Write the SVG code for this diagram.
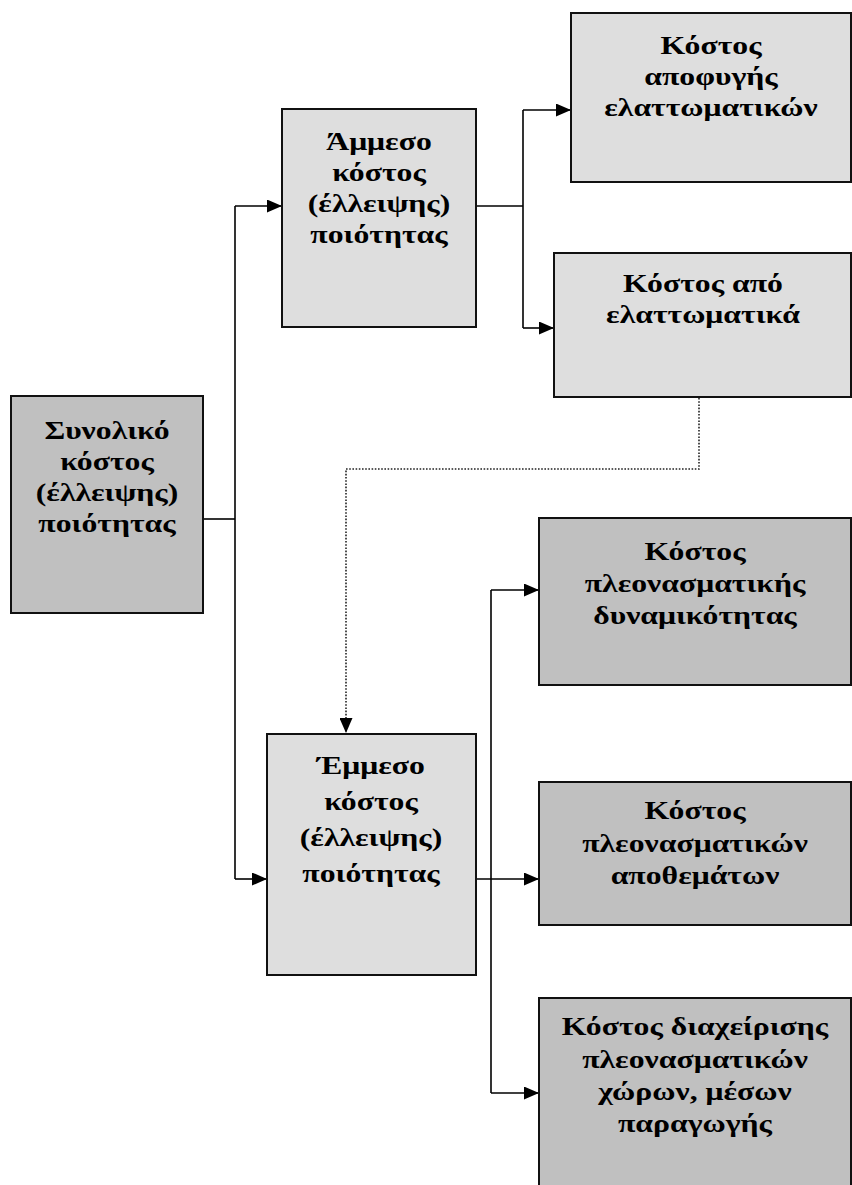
<svg xmlns="http://www.w3.org/2000/svg" width="852" height="1185" viewBox="0 0 852 1185">
  <style>
    .box { stroke: #111; stroke-width: 2; }
    .light { fill: #dedede; }
    .dark { fill: #c0c0c0; }
    .label { font-family: 'Liberation Serif', serif; font-weight: bold; font-size: 26px; fill: #000; text-anchor: middle; }
    .wire { fill: none; stroke: #000; stroke-width: 1.6; }
    .dotted { fill: none; stroke: #222; stroke-width: 1.6; stroke-dasharray: 1.6 1.6; }
    .faint { fill: none; stroke: #888; stroke-width: 1.6; }
  </style>
  <defs>
    <marker id="arrow" viewBox="0 0 15 13" refX="15" refY="6.5" markerWidth="15" markerHeight="13" markerUnits="userSpaceOnUse" orient="auto">
      <path d="M0,0 L15,6.5 L0,13 z" fill="#000"/>
    </marker>
  </defs>
  <rect width="852" height="1185" fill="#fff"/>

  <!-- connectors -->
  <g id="connectors">
    <path class="wire" d="M203,519 H235"/>
    <path class="wire" d="M235,206 V879"/>
    <path class="wire" d="M235,206 H282" marker-end="url(#arrow)"/>
    <path class="wire" d="M235,879 H267" marker-end="url(#arrow)"/>
    <path class="wire" d="M476,206 H523"/>
    <path class="wire" d="M523,110 V328"/>
    <path class="wire" d="M523,110 H571" marker-end="url(#arrow)"/>
    <path class="wire" d="M523,328 H554" marker-end="url(#arrow)"/>
    <path class="dotted" d="M699,398 V469 H346 V733" marker-end="url(#arrow)"/>
    <path class="faint" d="M458,879 H476"/>
    <path class="wire" d="M476,879 H539" marker-end="url(#arrow)"/>
    <path class="wire" d="M491,590 V1093"/>
    <path class="wire" d="M491,590 H539" marker-end="url(#arrow)"/>
    <path class="wire" d="M491,1093 H539" marker-end="url(#arrow)"/>
  </g>

  <!-- labels are widened horizontally around each box centre -->
  <g id="total-cost">
    <rect class="box dark" x="11" y="396" width="192" height="217"/>
    <text class="label" transform="translate(107 0) scale(1.22 1)"><tspan x="0" y="439">Συνολικό</tspan><tspan x="0" y="470">κόστος</tspan><tspan x="0" y="501">(έλλειψης)</tspan><tspan x="0" y="532">ποιότητας</tspan></text>
  </g>

  <g id="direct-cost">
    <rect class="box light" x="282" y="109" width="194" height="218"/>
    <text class="label" transform="translate(379 0) scale(1.22 1)"><tspan x="0" y="150">Άμμεσο</tspan><tspan x="0" y="181">κόστος</tspan><tspan x="0" y="212">(έλλειψης)</tspan><tspan x="0" y="243">ποιότητας</tspan></text>
  </g>

  <g id="prevention-cost">
    <rect class="box light" x="571" y="13" width="280" height="169"/>
    <text class="label" transform="translate(711 0) scale(1.22 1)"><tspan x="0" y="54">Κόστος</tspan><tspan x="0" y="85">αποφυγής</tspan><tspan x="0" y="116">ελαττωματικών</tspan></text>
  </g>

  <g id="defects-cost">
    <rect class="box light" x="554" y="253" width="297" height="144"/>
    <text class="label" transform="translate(703 0) scale(1.22 1)"><tspan x="0" y="292">Κόστος από</tspan><tspan x="0" y="323">ελαττωματικά</tspan></text>
  </g>

  <g id="indirect-cost">
    <rect class="box light" x="267" y="734" width="209" height="241"/>
    <text class="label" transform="translate(371 0) scale(1.22 1)"><tspan x="0" y="774">Έμμεσο</tspan><tspan x="0" y="810">κόστος</tspan><tspan x="0" y="846">(έλλειψης)</tspan><tspan x="0" y="882">ποιότητας</tspan></text>
  </g>

  <g id="excess-capacity">
    <rect class="box dark" x="539" y="518" width="312" height="167"/>
    <text class="label" transform="translate(695 0) scale(1.22 1)"><tspan x="0" y="560">Κόστος</tspan><tspan x="0" y="592">πλεονασματικής</tspan><tspan x="0" y="624">δυναμικότητας</tspan></text>
  </g>

  <g id="excess-stock">
    <rect class="box dark" x="539" y="782" width="312" height="143"/>
    <text class="label" transform="translate(695 0) scale(1.22 1)"><tspan x="0" y="819">Κόστος</tspan><tspan x="0" y="852">πλεονασματικών</tspan><tspan x="0" y="884">αποθεμάτων</tspan></text>
  </g>

  <g id="excess-space">
    <rect class="box dark" x="539" y="998" width="312" height="200"/>
    <text class="label" transform="translate(695 0) scale(1.22 1)"><tspan x="0" y="1035">Κόστος διαχείρισης</tspan><tspan x="0" y="1068">πλεονασματικών</tspan><tspan x="0" y="1100">χώρων, μέσων</tspan><tspan x="0" y="1132">παραγωγής</tspan></text>
  </g>
</svg>
